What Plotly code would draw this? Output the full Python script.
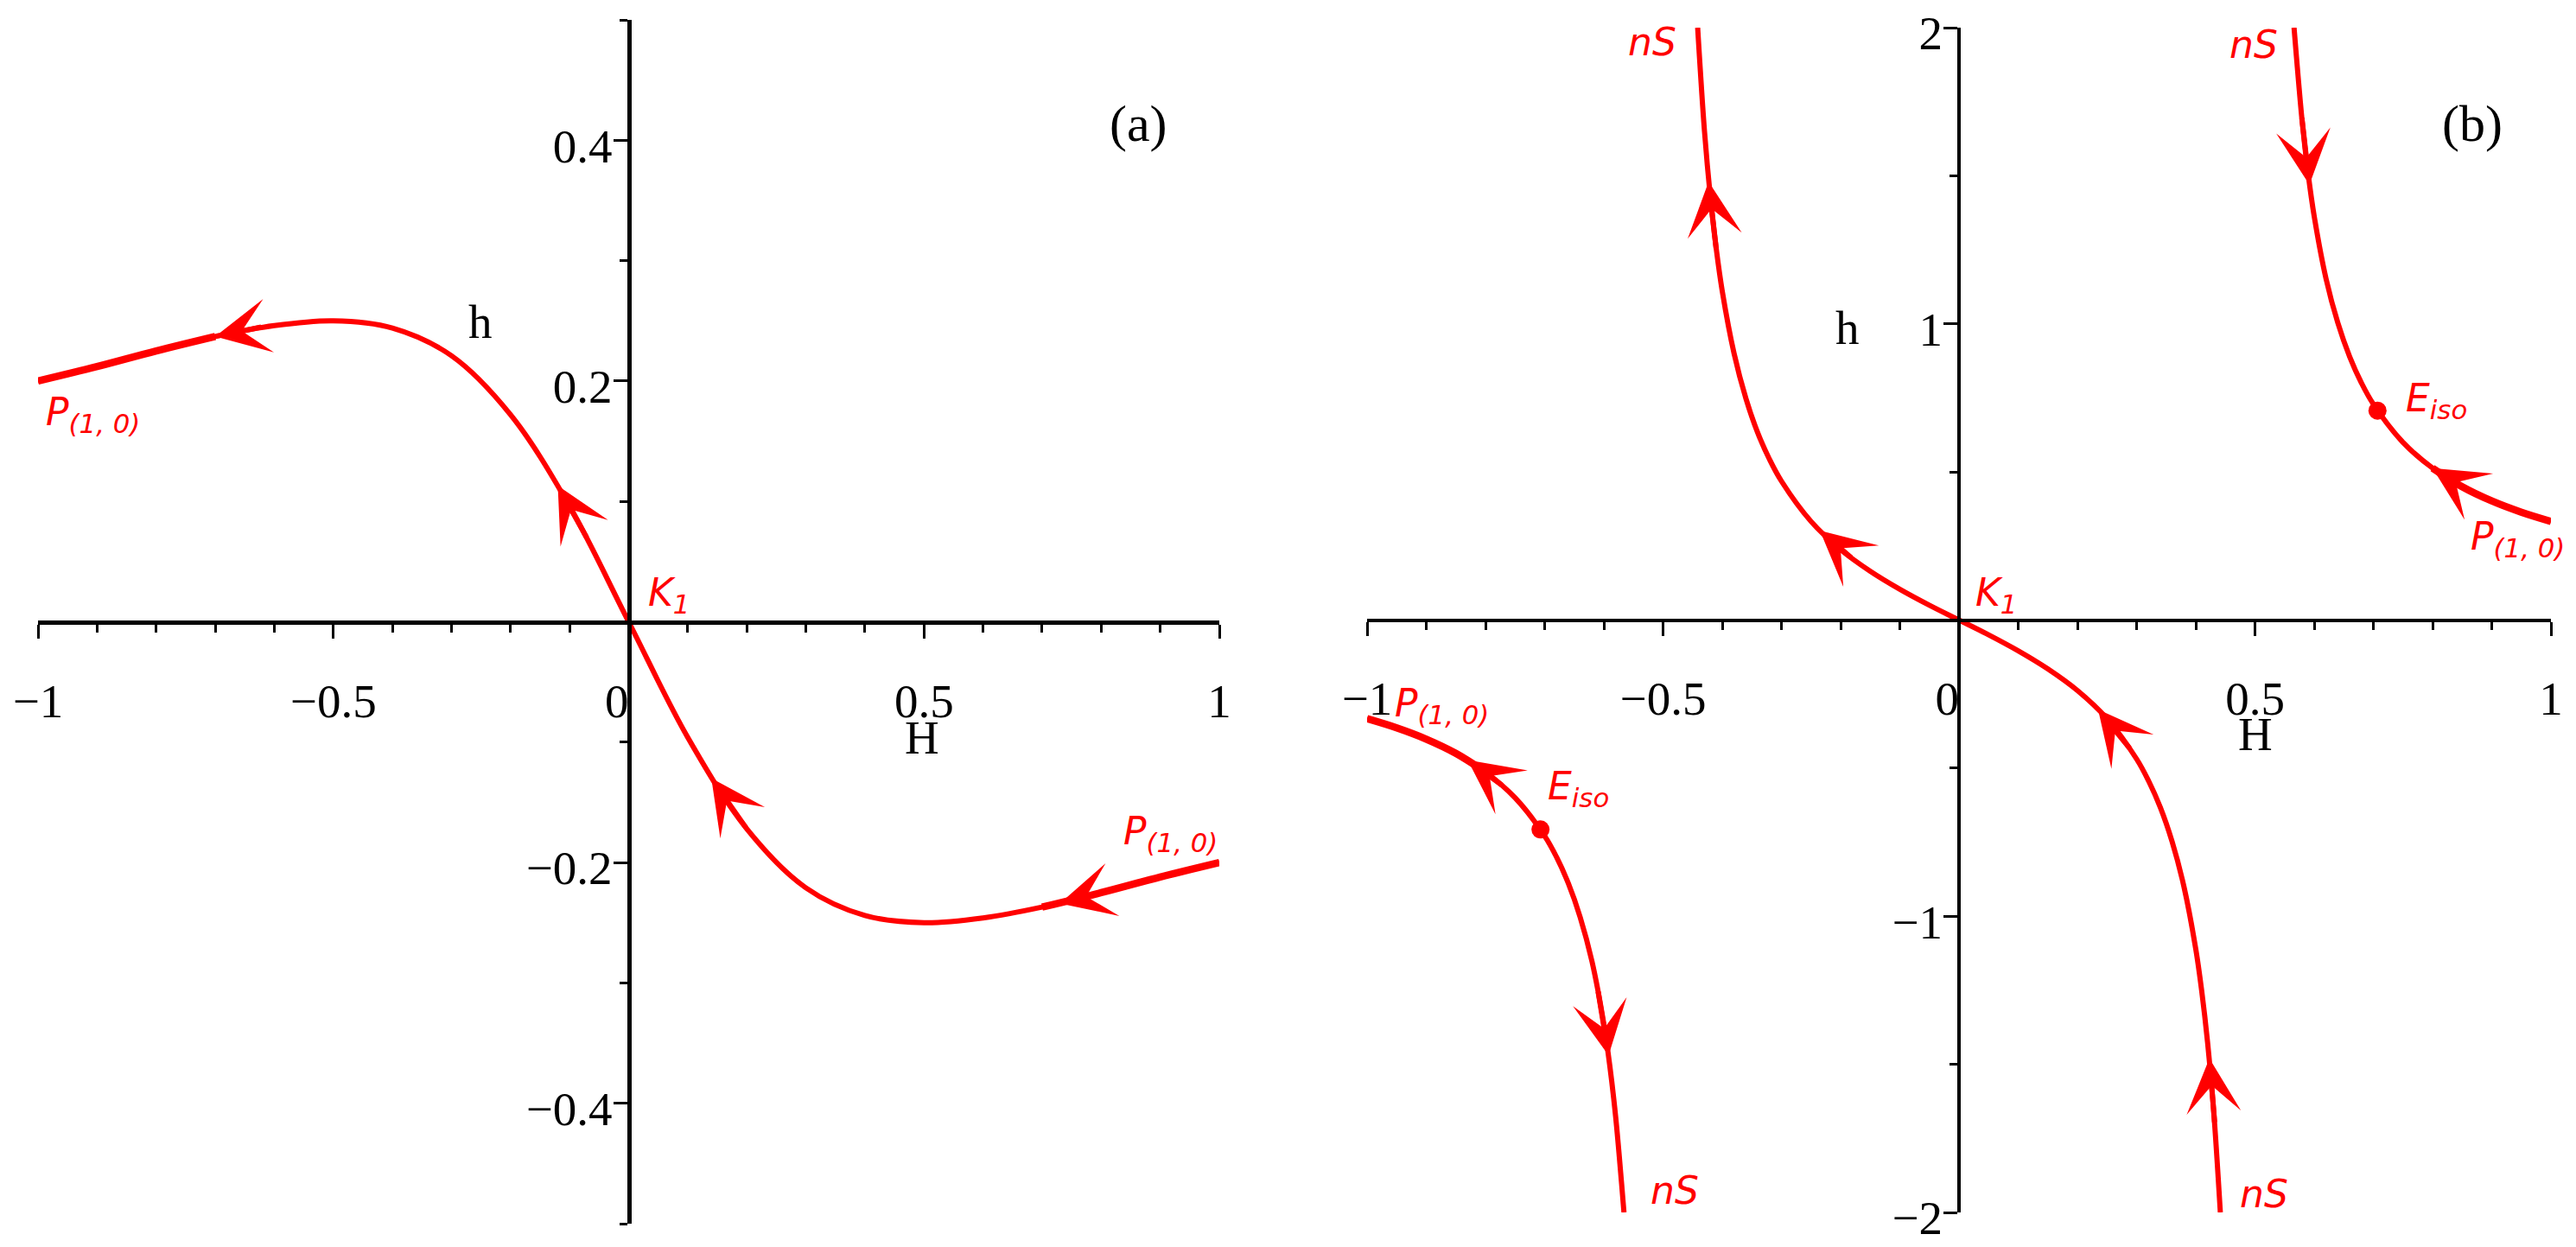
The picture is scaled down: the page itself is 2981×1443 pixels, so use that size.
import plotly.graph_objects as go

FIG_W, FIG_H = 2981, 1443
PAGE_OFFSET = 8  # default body margin of the html page
RED = "#ff0000"
SERIF = "Liberation Serif"
SANS = "DejaVu Sans"

# ---------------- panel (a) ----------------
a_H = [-1.0, -0.9, -0.8, -0.7, -0.6, -0.5, -0.4, -0.3, -0.2, -0.1, 0.0,
       0.1, 0.2, 0.3, 0.4, 0.5, 0.6, 0.7, 0.8, 0.9, 1.0]
a_h = [0.200, 0.212, 0.225, 0.237, 0.246, 0.250, 0.244, 0.221, 0.172, 0.096, 0.0,
       -0.096, -0.172, -0.221, -0.244, -0.250, -0.246, -0.237, -0.225, -0.212, -0.200]

# arrows: tip H, tip h, tail H, tail h
a_arrows = [
    (-0.70, 0.237, -0.62, 0.245),
    (-0.12, 0.113, -0.07, 0.069),
    (0.14, -0.130, 0.20, -0.172),
    (0.73, -0.234, 0.80, -0.225),
]

a_x_major = [-1, -0.5, 0, 0.5, 1]
a_x_labels = ["\u22121", "\u22120.5", "0\u00a0\u00a0", "0.5", "1"]
a_x_minor = [-0.9, -0.8, -0.7, -0.6, -0.4, -0.3, -0.2, -0.1, 0.1, 0.2, 0.3, 0.4, 0.6, 0.7, 0.8, 0.9]
a_y_major = [-0.4, -0.2, 0.2, 0.4]
a_y_labels = ["\u22120.4", "\u22120.2", "0.2", "0.4"]
a_y_minor = [-0.5, -0.3, -0.1, 0.1, 0.3, 0.5]

# ---------------- panel (b) ----------------
b_mid_H = [-0.4415, -0.43, -0.42, -0.41, -0.40, -0.38, -0.36, -0.34, -0.32, -0.30,
           -0.25, -0.20, -0.15, -0.10, -0.05, 0.0, 0.05, 0.10, 0.15, 0.20, 0.25,
           0.30, 0.32, 0.34, 0.36, 0.38, 0.40, 0.41, 0.42, 0.43, 0.4415]
b_mid_h = [2.0, 1.651, 1.427, 1.252, 1.111, 0.900, 0.748, 0.632, 0.542, 0.469,
           0.333, 0.238, 0.165, 0.104, 0.050, 0.0, -0.050, -0.104, -0.165, -0.238, -0.333,
           -0.469, -0.542, -0.632, -0.748, -0.900, -1.111, -1.252, -1.427, -1.651, -2.0]

b_right_H = [0.566, 0.57, 0.58, 0.59, 0.60, 0.62, 0.64, 0.66, 0.68, 0.70,
             0.75, 0.80, 0.85, 0.90, 0.95, 1.0]
b_right_h = [2.0, 1.903, 1.678, 1.504, 1.364, 1.153, 1.003, 0.889, 0.800, 0.729,
             0.600, 0.513, 0.450, 0.402, 0.364, 0.333]
b_left_H = [-0.566, -0.57, -0.58, -0.59, -0.60, -0.62, -0.64, -0.66, -0.68, -0.70,
            -0.75, -0.80, -0.85, -0.90, -0.95, -1.0]
b_left_h = [-2.0, -1.903, -1.678, -1.504, -1.364, -1.153, -1.003, -0.889, -0.800, -0.729,
            -0.600, -0.513, -0.450, -0.402, -0.364, -0.333]

b_eiso_H = [0.707, -0.707]
b_eiso_h = [0.707, -0.707]

b_arrows = [
    (-0.423, 1.48, -0.41, 1.25),
    (-0.235, 0.302, -0.18, 0.207),
    (0.235, -0.302, 0.29, -0.437),
    (0.423, -1.48, 0.432, -1.70),
    (0.592, 1.47, 0.579, 1.70),
    (0.80, 0.513, 0.86, 0.439),
    (-0.83, -0.473, -0.77, -0.561),
    (-0.592, -1.47, -0.61, -1.25),
]

b_x_major = [-1, -0.5, 0, 0.5, 1]
b_x_labels = ["\u22121", "\u22120.5", "0\u00a0\u00a0", "0.5", "1"]
b_x_minor = a_x_minor
b_y_major = [-2, -1, 1, 2]
b_y_labels = ["\u22122", "\u22121", "1", "2"]
b_y_minor = [-1.5, -0.5, 0.5, 1.5]

# labels: text, H, h, xanchor, style
a_labels = [
    ("P<sub>(1, 0)</sub>", -0.99, 0.172, "left", "red"),
    ("K<sub>1</sub>", 0.030, 0.022, "left", "red"),
    ("P<sub>(1, 0)</sub>", 0.917, -0.176, "center", "red"),
    ("h", -0.2516, 0.249, "center", "black"),
    ("H", 0.497, -0.096, "center", "black"),
    ("(a)", 0.863, 0.414, "center", "tag"),
]
b_labels = [
    ("nS", -0.474, 1.953, "right", "red"),
    ("nS", 0.542, 1.944, "right", "red"),
    ("nS", -0.524, -1.927, "left", "red"),
    ("nS", 0.472, -1.938, "left", "red"),
    ("K<sub>1</sub>", 0.025, 0.086, "left", "red"),
    ("E<sub>iso</sub>", 0.752, 0.74, "left", "red"),
    ("E<sub>iso</sub>", -0.698, -0.57, "left", "red"),
    ("P<sub>(1, 0)</sub>", 0.861, 0.273, "left", "red"),
    ("P<sub>(1, 0)</sub>", -0.956, -0.29, "left", "red"),
    ("h", -0.188, 0.985, "center", "black"),
    ("H", 0.50, -0.385, "center", "black"),
    ("(b)", 0.867, 1.676, "center", "tag"),
]


def px_x(px):
    return (px - PAGE_OFFSET) / FIG_W


def px_y(py):
    return 1 - (py - PAGE_OFFSET) / FIG_H


def axis_pair(xdom, ydom, xrange_, yrange_, xt, xl, xm, yt, yl, ym, lw):
    tickfont = {"family": SERIF, "size": 55, "color": "black"}
    common = {
        "showline": True, "linecolor": "black", "linewidth": lw,
        "showgrid": False, "zeroline": False, "automargin": False,
        "ticks": "outside", "ticklen": 16, "tickwidth": 3, "tickcolor": "black",
        "tickfont": tickfont, "fixedrange": True, "ticklabeloverflow": "allow",
    }
    xaxis = dict(common,
                 domain=xdom, range=xrange_, anchor="free",
                 position=(ydom[0] + ydom[1]) / 2,
                 tickvals=xt, ticktext=xl, ticklabelstandoff=25,
                 minor={"tickvals": xm, "ticks": "outside", "ticklen": 9,
                        "tickwidth": 3, "tickcolor": "black", "showgrid": False})
    yaxis = dict(common,
                 domain=ydom, range=yrange_, anchor="free",
                 position=(xdom[0] + xdom[1]) / 2,
                 tickvals=yt, ticktext=yl, ticklabelstandoff=-10, ticklabelshift=6,
                 minor={"tickvals": ym, "ticks": "outside", "ticklen": 9,
                        "tickwidth": 3, "tickcolor": "black", "showgrid": False})
    return xaxis, yaxis


def curve(x, y, xa, ya, width=6):
    return go.Scatter(x=x, y=y, mode="lines", xaxis=xa, yaxis=ya,
                      line={"color": RED, "width": width, "shape": "spline"},
                      hoverinfo="skip")


def arrow_annots(arrows, xa, ya):
    out = []
    for tx, ty, sx, sy in arrows:
        out.append({
            "x": tx, "y": ty, "ax": sx, "ay": sy,
            "xref": xa, "yref": ya, "axref": xa, "ayref": ya,
            "text": "", "showarrow": True, "arrowhead": 3,
            "arrowsize": 1.75, "arrowwidth": 6, "arrowcolor": RED,
            "standoff": 0, "startstandoff": 0,
        })
    return out


def label_annots(labels, xa, ya, red_size):
    out = []
    for text, x, y, xanchor, kind in labels:
        if kind == "red":
            font = {"family": SANS, "size": red_size, "color": RED, "style": "italic"}
        elif kind == "tag":
            font = {"family": SERIF, "size": 60, "color": "black"}
        else:
            font = {"family": SERIF, "size": 55, "color": "black"}
        out.append({"x": x, "y": y, "xref": xa, "yref": ya, "text": text,
                    "showarrow": False, "xanchor": xanchor, "yanchor": "middle",
                    "font": font})
    return out


fig = go.Figure()

# panel (a)
fig.add_trace(curve(a_H, a_h, "x", "y"))
fig.add_trace(curve(a_H[:4], a_h[:4], "x", "y", width=8.5))
fig.add_trace(curve(a_H[-4:], a_h[-4:], "x", "y", width=8.5))

# panel (b)
fig.add_trace(curve(b_mid_H, b_mid_h, "x2", "y2"))
fig.add_trace(curve(b_right_H, b_right_h, "x2", "y2"))
fig.add_trace(curve(b_left_H, b_left_h, "x2", "y2"))
fig.add_trace(curve(b_right_H[11:], b_right_h[11:], "x2", "y2", width=8.5))
fig.add_trace(curve(b_left_H[11:], b_left_h[11:], "x2", "y2", width=8.5))
fig.add_trace(go.Scatter(x=b_eiso_H, y=b_eiso_h, mode="markers", xaxis="x2", yaxis="y2",
                         marker={"color": RED, "size": 21}, hoverinfo="skip"))

xa1, ya1 = axis_pair([px_x(44), px_x(1411)], [px_y(1416), px_y(23)], [-1, 1], [-0.5, 0.5],
                     a_x_major, a_x_labels, a_x_minor, a_y_major, a_y_labels, a_y_minor, 5)
xa2, ya2 = axis_pair([px_x(1582), px_x(2952)], [px_y(1403), px_y(32)], [-1, 1], [-2, 2],
                     b_x_major, b_x_labels, b_x_minor, b_y_major, b_y_labels, b_y_minor, 4)

annots = (arrow_annots(a_arrows, "x", "y") + arrow_annots(b_arrows, "x2", "y2")
          + label_annots(a_labels, "x", "y", 44) + label_annots(b_labels, "x2", "y2", 44))

fig.update_layout(
    width=FIG_W, height=FIG_H,
    margin={"l": 0, "r": 0, "t": 0, "b": 0, "autoexpand": False},
    paper_bgcolor="white", plot_bgcolor="white",
    showlegend=False,
    xaxis=xa1, yaxis=ya1, xaxis2=xa2, yaxis2=ya2,
    annotations=annots,
)

fig.write_html("out.html")
